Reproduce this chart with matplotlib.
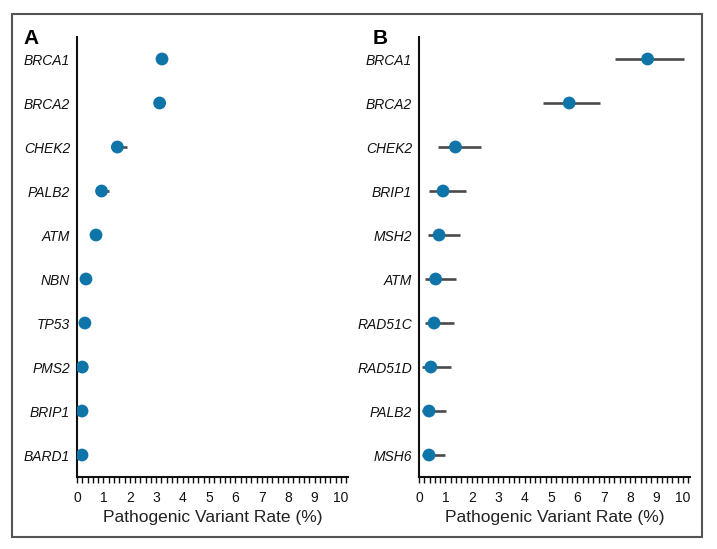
import numpy as np
import matplotlib
matplotlib.use('Agg')
import matplotlib.pyplot as plt
from matplotlib.patches import Rectangle
from matplotlib.ticker import MultipleLocator

FONT = ['Liberation Sans Narrow', 'Liberation Sans', 'DejaVu Sans']
plt.rcParams['font.family'] = FONT

# Panel A
genes_a = ['BRCA1', 'BRCA2', 'CHEK2', 'PALB2', 'ATM', 'NBN', 'TP53', 'PMS2', 'BRIP1', 'BARD1']
rate_a = [3.22, 3.13, 1.53, 0.93, 0.72, 0.34, 0.30, 0.20, 0.19, 0.19]
low_a = [3.05, 2.97, 1.30, 0.78, 0.60, 0.28, 0.25, 0.16, 0.15, 0.15]
high_a = [3.40, 3.30, 1.88, 1.20, 0.92, 0.42, 0.36, 0.26, 0.24, 0.24]

# Panel B
genes_b = ['BRCA1', 'BRCA2', 'CHEK2', 'BRIP1', 'MSH2', 'ATM', 'RAD51C', 'RAD51D', 'PALB2', 'MSH6']
rate_b = [8.66, 5.69, 1.38, 0.91, 0.76, 0.63, 0.57, 0.45, 0.38, 0.38]
low_b = [7.44, 4.71, 0.72, 0.38, 0.33, 0.24, 0.22, 0.13, 0.10, 0.10]
high_b = [10.04, 6.86, 2.34, 1.78, 1.54, 1.39, 1.31, 1.20, 1.01, 0.98]

DOT = '#0f74a8'
BAR = '#4a4a4a'

fig = plt.figure(figsize=(7.17, 5.49), dpi=100)
fig.patch.set_facecolor('white')

# outer frame
fig.patches.append(Rectangle((12 / 717, 1 - 537 / 549), 690 / 717, 523 / 549,
                             transform=fig.transFigure, fill=False,
                             edgecolor='#555555', linewidth=1.5))


def draw_panel(left, letter, letter_x, genes, rate, low, high):
    ax = fig.add_axes([left, 0.1311, 0.3774, 0.8015])
    y = np.arange(len(genes))
    rate = np.array(rate)
    err = [rate - np.array(low), np.array(high) - rate]
    ax.errorbar(rate, y, xerr=err, fmt='none', ecolor=BAR, elinewidth=1.9,
                capsize=0, zorder=2)
    ax.scatter(rate, y, s=85, color=DOT, edgecolor='none', zorder=3)

    ax.set_xlim(0, 10.25)
    ax.set_ylim(len(genes) - 0.5, -0.5)
    ax.set_yticks(y)
    ax.set_yticklabels(genes, style='italic', fontsize=10, color='#111111')
    ax.tick_params(axis='y', length=0, pad=5)

    ax.xaxis.set_major_locator(MultipleLocator(1))
    ax.xaxis.set_minor_locator(MultipleLocator(0.2))
    ax.tick_params(axis='x', which='both', length=4, width=1, direction='out',
                   color='#111111', labelsize=10, pad=6, labelcolor='#111111')
    ax.set_xlabel('Pathogenic Variant Rate (%)', fontsize=12.5, labelpad=4,
                  color='#222222')

    for s in ['top', 'right']:
        ax.spines[s].set_visible(False)
    for s in ['left', 'bottom']:
        ax.spines[s].set_linewidth(1.5)
        ax.spines[s].set_color('#111111')

    fig.text(letter_x, 1 - 44 / 549, letter, fontsize=15, fontweight='bold',
             family=['Liberation Sans', 'DejaVu Sans'], ha='left', va='baseline')
    return ax


draw_panel(77 / 717, 'A', 23 / 717, genes_a, rate_a, low_a, high_a)
draw_panel(419 / 717, 'B', 373 / 717, genes_b, rate_b, low_b, high_b)

fig.savefig('out.png', dpi=100, facecolor='white')
